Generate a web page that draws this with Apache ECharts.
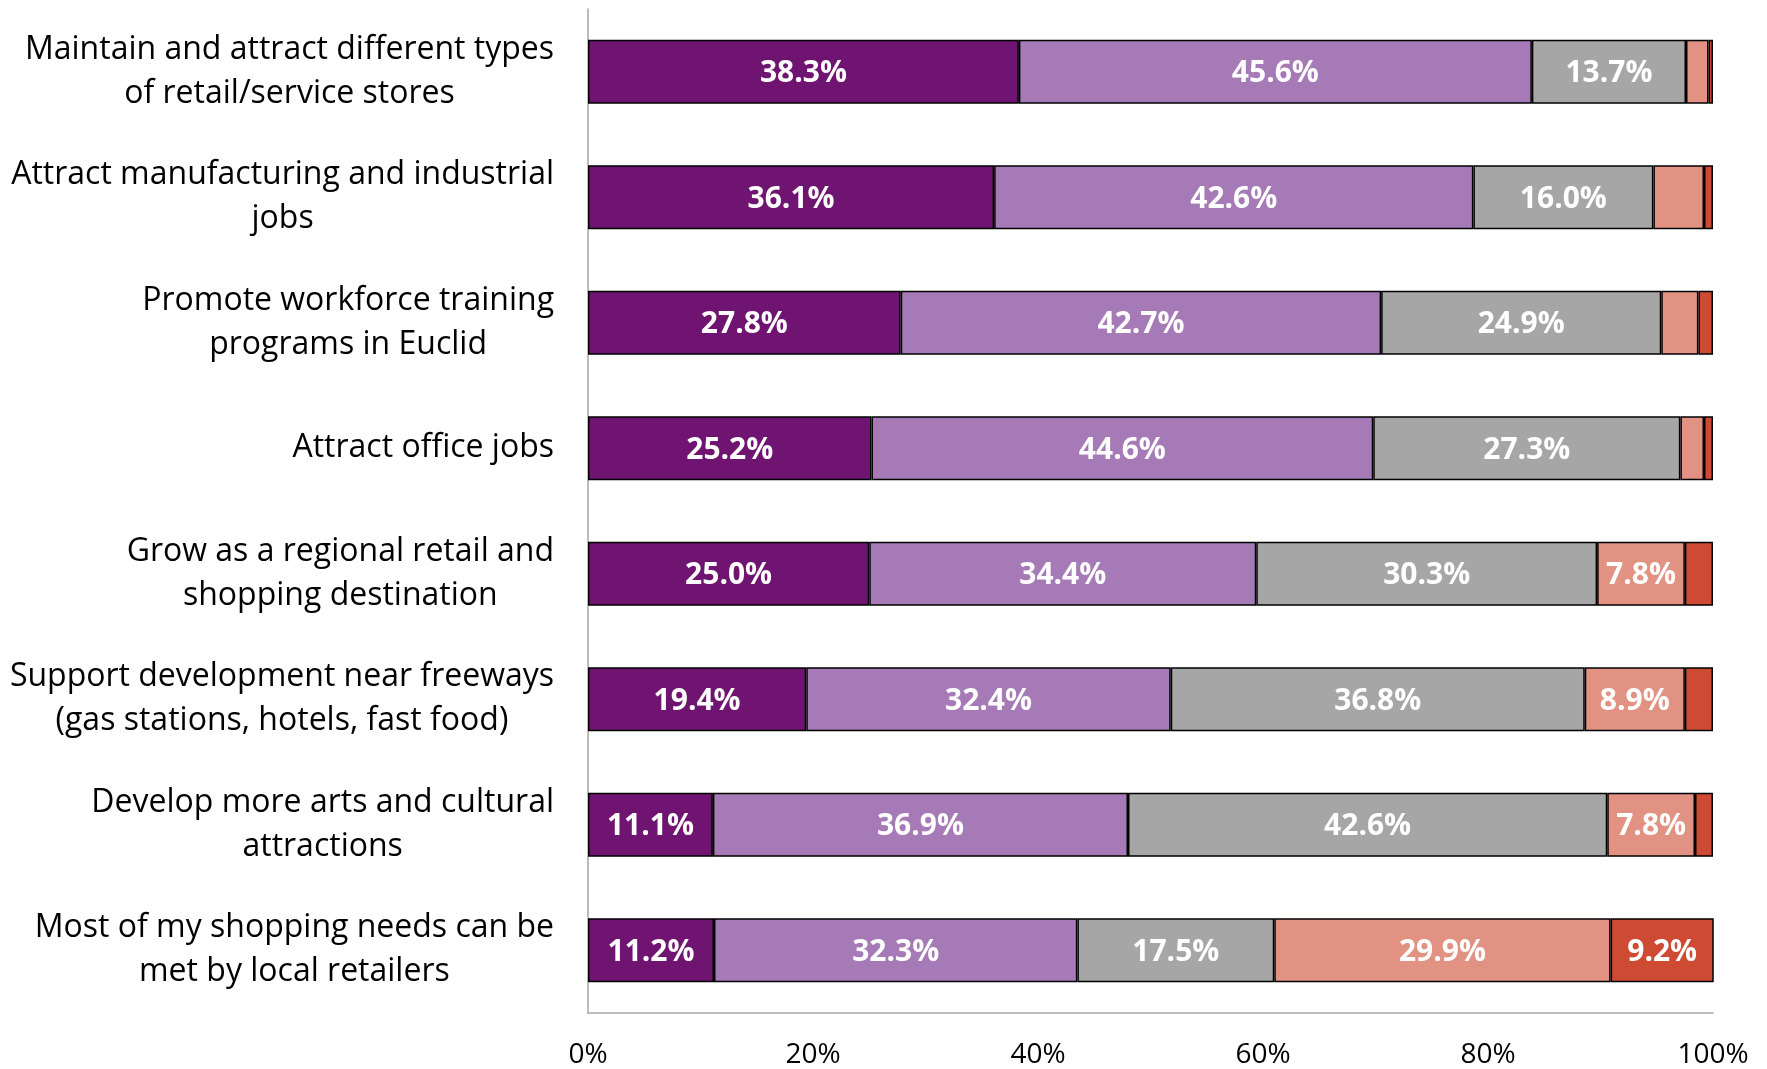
<!DOCTYPE html>
<html>
<head>
<meta charset="utf-8">
<script src="https://cdn.jsdelivr.net/npm/echarts@6/dist/echarts.min.js"></script>
<style>
html,body{margin:0;padding:0;background:#fff;}
#chart{width:1767px;height:1069px;}
</style>
</head>
<body>
<div id="chart"></div>
<script>
const categories = [
  "Maintain and attract different types\nof retail/service stores",
  "Attract manufacturing and industrial\njobs",
  "Promote workforce training\nprograms in Euclid",
  "Attract office jobs",
  "Grow as a regional retail and\nshopping destination",
  "Support development near freeways\n(gas stations, hotels, fast food)",
  "Develop more arts and cultural\nattractions",
  "Most of my shopping needs can be\nmet by local retailers"
];
const seriesNames = ["Strongly agree", "Agree", "Neutral", "Disagree", "Strongly disagree"];
const s1 = [38.3, 36.1, 27.8, 25.2, 25.0, 19.4, 11.1, 11.2];
const s2 = [45.6, 42.6, 42.7, 44.6, 34.4, 32.4, 36.9, 32.3];
const s3 = [13.7, 16.0, 24.9, 27.3, 30.3, 36.8, 42.6, 17.5];
const s4 = [2.0, 4.5, 3.3, 2.1, 7.8, 8.9, 7.8, 29.9];
const s5 = [0.4, 0.8, 1.3, 0.8, 2.5, 2.5, 1.6, 9.2];
const xTicks = [0, 20, 40, 60, 80, 100];
const colors = ["#6F1470", "#A57AB6", "#A6A6A6", "#E19283", "#CF4A32"];

const chart = echarts.init(document.getElementById('chart'));
const allData = [s1, s2, s3, s4, s5];
const series = allData.map((d, i) => ({
  name: seriesNames[i],
  type: 'bar',
  stack: 'total',
  barWidth: '51%',
  data: d,
  itemStyle: { color: colors[i], borderColor: '#000', borderWidth: 1.5 },
  label: {
    show: true,
    position: 'inside',
    color: '#fff',
    fontFamily: 'Open Sans',
    fontWeight: 'bold',
    fontSize: 30,
    offset: [0, 2],
    formatter: p => p.value >= 5 ? p.value.toFixed(1) + '%' : ''
  },
  emphasis: { disabled: true }
}));

chart.setOption({
  animation: false,
  backgroundColor: '#fff',
  grid: { left: 588, right: 54, top: 9, bottom: 48, containLabel: false },
  xAxis: {
    type: 'value',
    min: 0, max: 100, interval: 20,
    axisLine: { show: true, lineStyle: { color: '#A6A6A6', width: 1.5 } },
    axisTick: { show: false },
    splitLine: { show: false },
    axisLabel: {
      margin: 28,
      color: '#000',
      fontFamily: 'Open Sans',
      fontSize: 28,
      formatter: v => xTicks.includes(v) ? v + '%' : ''
    }
  },
  yAxis: {
    type: 'category',
    inverse: true,
    data: categories,
    axisLine: { show: true, lineStyle: { color: '#A6A6A6', width: 1.5 } },
    axisTick: { show: false },
    axisLabel: {
      margin: 34,
      align: 'right',
      formatter: v => v.split('\n').map(l => '{c|' + l + '}').join('\n'),
      rich: {
        c: { align: 'center', fontFamily: 'Open Sans', fontSize: 32, lineHeight: 44, color: '#000' }
      }
    }
  },
  series: series
});
</script>
</body>
</html>
